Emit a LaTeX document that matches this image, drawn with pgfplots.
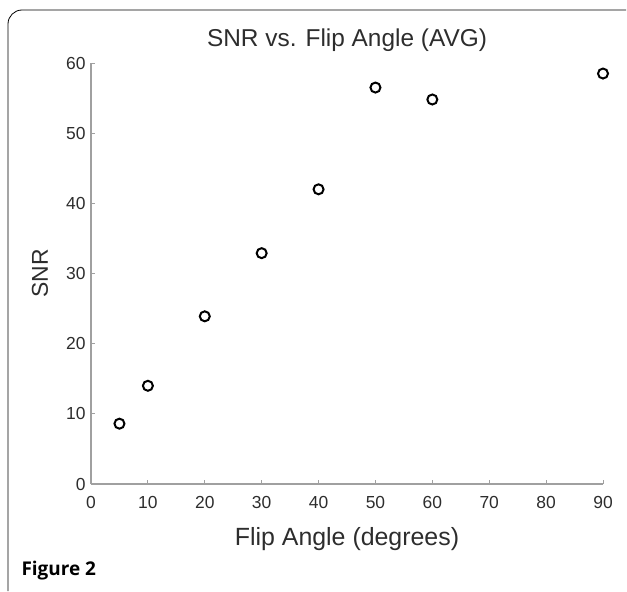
\documentclass[border=0pt]{standalone}
\usepackage{pgfplots}
\pgfplotsset{compat=1.18}
\usepackage{fontspec}
\setmainfont{Liberation Sans}
\newfontfamily\figfont{Open Sans}
\definecolor{axgray}{RGB}{160,160,160}
\definecolor{txtgray}{RGB}{45,45,45}
\begin{document}
\begin{tikzpicture}[x=1bp,y=1bp]
\useasboundingbox (0,0) rectangle (627,-592);
\draw[black,line width=0.8bp,rounded corners=14bp] (8,-591) -- (8,-10) -- (626,-10);
\begin{axis}[
    at={(91bp,-484bp)}, anchor=origin,
    scale only axis,
    width=512bp, height=421bp,
    xmin=0, xmax=90, ymin=0, ymax=60,
    xtick={0,10,...,90}, ytick={0,10,...,60},
    axis x line*=bottom, axis y line*=left,
    axis line style={axgray, line width=1.3bp, -},
    tick style={axgray, line width=1bp},
    major tick length=4bp,
    tick align=inside,
    tick label style={font=\fontsize{17.5}{17.5}\selectfont, text=txtgray},
    /pgf/number format/assume math mode=true,
    xticklabel style={anchor=base, yshift=-24bp},
    yticklabel style={xshift=-2bp},
    title={SNR vs. Flip Angle (AVG)},
    title style={font=\fontsize{24.5}{24.5}\selectfont, text=txtgray,
        at={(axis description cs:0.5,1.025)}, anchor=base},
    xlabel={Flip Angle (degrees)},
    ylabel={SNR},
    xlabel style={font=\fontsize{25}{25}\selectfont, text=txtgray,
        at={(axis description cs:0.5,-0.1449)}, anchor=base},
    ylabel style={font=\fontsize{23}{23}\selectfont, text=txtgray,
        at={(axis description cs:-0.084,0.5)}, anchor=base},
    clip=false,
]
\addplot[only marks, mark=o, mark size=5bp, mark options={line width=2bp, black}] coordinates {
    (5,8.6) (10,14.0) (20,23.9) (30,32.9) (40,42.0) (50,56.5) (60,54.8) (90,58.5)
};
\end{axis}
\node[anchor=base west, font=\figfont\bfseries\fontsize{19}{19}\selectfont] at (18,-575) {Figure 2};
\end{tikzpicture}
\end{document}
